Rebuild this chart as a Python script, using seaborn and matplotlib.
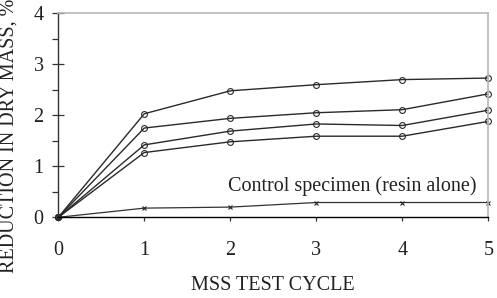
import matplotlib
matplotlib.use("Agg")
import matplotlib.pyplot as plt
import seaborn as sns
import pandas as pd
from matplotlib.ticker import MultipleLocator

cycles = [0, 1, 2, 3, 4, 5]
series_a = [0, 2.03, 2.48, 2.60, 2.70, 2.73]
series_b = [0, 1.75, 1.94, 2.05, 2.11, 2.42]
series_c = [0, 1.42, 1.69, 1.83, 1.80, 2.10]
series_d = [0, 1.27, 1.48, 1.59, 1.59, 1.88]
control = [0, 0.18, 0.20, 0.29, 0.29, 0.29]
x_ticks = [0, 1, 2, 3, 4, 5]
y_ticks = [0, 1, 2, 3, 4]

sns.set_style("ticks")
plt.rcParams["font.family"] = ["Liberation Serif", "DejaVu Serif"]

rows = []
for name, vals in [("A", series_a), ("B", series_b), ("C", series_c), ("D", series_d)]:
    for c, v in zip(cycles, vals):
        rows.append({"cycle": c, "value": v, "series": name})
df = pd.DataFrame(rows)
df_ctrl = pd.DataFrame({"cycle": cycles, "value": control})

fig = plt.figure(figsize=(4.97, 2.98), dpi=100)
ax = fig.add_axes([0.1173, 0.2708, 0.9825 - 0.1173, 0.9554 - 0.2708])

line_col = "#2a2a2a"
sns.lineplot(data=df, x="cycle", y="value", hue="series",
             palette=[line_col] * 4, marker="o", markersize=4.2,
             markerfacecolor="none", markeredgecolor=line_col, markeredgewidth=0.8,
             linewidth=1.0, legend=False, ax=ax, clip_on=False)
sns.lineplot(data=df_ctrl, x="cycle", y="value", color="#333333", marker="x",
             markersize=3.5, markeredgewidth=0.8, markeredgecolor="#222222",
             linewidth=0.9, ax=ax, clip_on=False)

ax.set_xlim(0, 5)
ax.set_ylim(0, 4)
ax.set_xticks(x_ticks)
ax.set_yticks(y_ticks)
ax.yaxis.set_minor_locator(MultipleLocator(0.5))
ax.tick_params(axis="y", which="major", direction="inout", length=9, width=0.9,
               colors="#333333", labelcolor="#222222", labelsize=14.5, pad=6)
ax.tick_params(axis="y", which="minor", direction="out", length=4.5, width=0.9,
               colors="#333333")
ax.tick_params(axis="x", which="major", direction="out", length=3, width=0.9,
               colors="#333333", labelcolor="#222222", labelsize=14.5, pad=14)

for s in ["top", "right"]:
    ax.spines[s].set_color("#b8b8b8")
    ax.spines[s].set_linewidth(1.2)
ax.spines["left"].set_color("#333333")
ax.spines["left"].set_linewidth(1.0)
ax.spines["bottom"].set_color("#000000")
ax.spines["bottom"].set_linewidth(1.0)

ax.set_xlabel("MSS TEST CYCLE", fontsize=14.5, color="#222222")
ax.xaxis.set_label_coords(0.5, -0.29)
ax.set_ylabel("REDUCTION IN DRY MASS, %", fontsize=14.5, color="#222222",
              ha="center", va="bottom")
ax.yaxis.label.set_rotation_mode("default")
ax.yaxis.set_label_coords(-0.1147, -0.273)

ax.text(1.97, 0.52, "Control specimen (resin alone)", fontsize=14.5,
        color="#222222", ha="left", va="baseline")

fig.savefig("out.png", dpi=100)
